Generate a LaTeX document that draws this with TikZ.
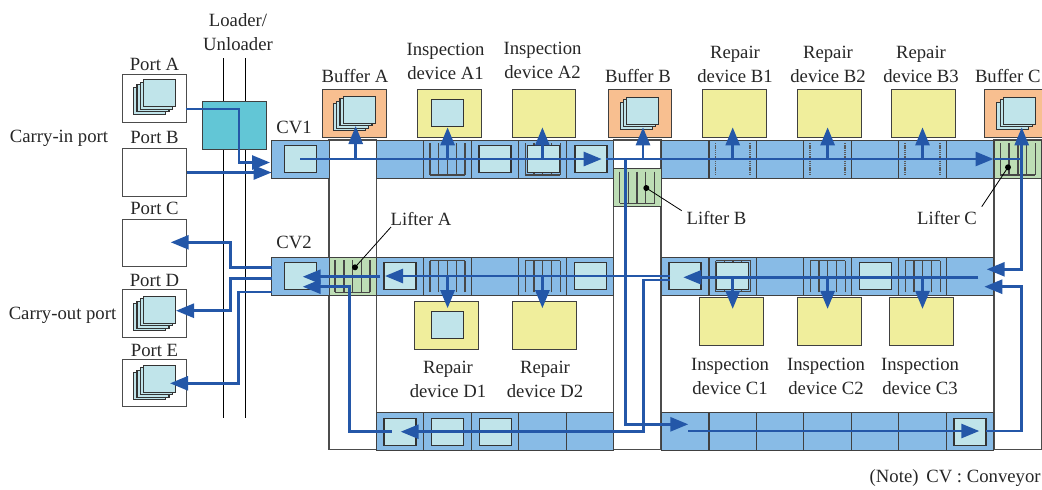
\documentclass[tikz,border=0pt]{standalone}
\usepackage{fontspec}
\setmainfont{Liberation Serif}
\usetikzlibrary{arrows.meta,positioning,calc}
\definecolor{beltblue}{HTML}{88BBE6}
\definecolor{liftgreen}{HTML}{BDDDB5}
\definecolor{loaderteal}{HTML}{62C6D6}
\definecolor{devyellow}{HTML}{F0EE9C}
\definecolor{bufforange}{HTML}{F8BF90}
\definecolor{palecarrier}{HTML}{C0E4EA}
\definecolor{flowblue}{HTML}{2457A8}
\tikzset{
  box/.style={draw=black!75,inner sep=0pt,outer sep=0pt,line width=0.5pt},
  cell/.style={box,fill=beltblue,minimum width=23.7pt,minimum height=19pt},
  cvcell/.style={cell,minimum width=28.7pt},
  lift/.style={cell,fill=liftgreen},
  device/.style={box,fill=devyellow,minimum width=31.8pt,minimum height=24pt},
  buffer/.style={device,fill=bufforange},
  port/.style={box,draw=black!70,fill=white,minimum width=32pt,minimum height=23.8pt},
  carrier/.style={draw=black!80,fill=palecarrier,line width=0.55pt},
  comb/.style={draw=black!72,line width=0.7pt},
  flow/.style={draw=flowblue,line width=1.35pt,-{Triangle[length=9pt,width=7pt]}},
  flowline/.style={draw=flowblue,line width=1.35pt},
  lbl/.style={inner sep=0pt,align=center,yshift=-0.4pt,text=black!85,font=\fontsize{9.35}{12}\selectfont}
}
\begin{document}
\begin{tikzpicture}[x=0.5pt,y=-0.5pt]
  \useasboundingbox (0,0) rectangle (1042,489);
  \clip (0,0) rectangle (1042,489);
  % lifter shafts and rails
  \foreach \a in {329,613.5,994}{
    \draw[draw=black!70,line width=0.55pt] (\a,140) rectangle ({\a+47.5},449.8);
  }
  \draw[line width=0.5pt] (223.3,58) -- (223.3,418);
  \draw[line width=0.5pt] (245.3,58) -- (245.3,418);
  \node[box,fill=loaderteal,minimum width=32pt,minimum height=24pt] (loader) at (234,125) {};
  % ports
  \foreach \n/\y in {A/98.3,B/172.5,C/242.8,D/313.3,E/382.8}{
    \node[port] (Port\n) at (154.5,\y) {};
  }
  % conveyors
  \node[cvcell] (CV1) at (300.3,159) {};
  \node[cvcell] (CV2) at (300.3,276) {};
  \foreach \n/\x in {1/400.2,2/447.6,3/495,4/542.4,5/589.8,6/685.2,7/732.7,8/780.1,9/827.6,10/875,11/922.5,12/970}{
    \node[cell] (T\n) at (\x,159) {};
    \node[cell] (M\n) at (\x,276) {};
    \node[cell] (L\n) at (\x,431.4) {};
  }
  \node[lift] (liftA) at (352.7,276) {};
  \node[lift] (liftB) at (637.5,187.5) {};
  \node[lift] (liftC) at (1017.7,159) {};
  % devices
  \foreach \n/\x in {A1/449.2,A2/544,B1/734.2,B2/829.2,B3/923.5}{
    \node[device] (Dev\n) at (\x,113.3) {};
  }
  \foreach \n/\x in {D1/446.2,D2/544.2}{
    \node[device] (Dev\n) at (\x,325.2) {};
  }
  \foreach \n/\x in {C1/731.2,C2/829.2,C3/921.2}{
    \node[device] (Dev\n) at (\x,321.9) {};
  }
  \foreach \n/\x in {A/354.2,B/639.8,C/1016.2}{
    \node[buffer] (Buf\n) at (\x,113.3) {};
  }
  % combs on the transfer tables
  \foreach \x/\s/\e in {447.5/143.3/175,542.7/143.3/175,637/171.7/203.3,1017.8/143.3/175,352.6/260/292.3,447.5/292.3/260.7,542.7/292.3/260.7,733/291.7/260.7,827.7/292.3/260.7,922.7/292.3/260.7}{
    \draw[comb] ({\x-17.5},\e) -- ({\x+17.5},\e);
    \foreach \d in {-17.5,-8.75,0,8.75,17.5}{
      \draw[comb] ({\x+\d},\s) -- ({\x+\d},\e);
    }
  }
  \draw[comb] (715.5,291.7) -- (750.5,291.7);
  \foreach \x in {715.3,750,810,845,905,940}{
    \draw[dash pattern=on 0.7pt off 0.4pt,draw=black!65,line width=0.7pt] (\x,143) -- (\x,175);
  }
  % carriers
  \foreach \x/\y in {284.5/145.5,431.7/99.3,479/145.3,527.3/145.3,575/145.3,284.3/262.5,384/262.5,574.7/262.5,669/262.5,716.7/262.5,859.3/262.5,431.7/311.7,384/418.3,431.7/418.3,479.3/418.3,954/418.3}{
    \draw[carrier] (\x,\y) rectangle ++(32,27);
  }
  \foreach \x/\y/\k in {133.7/87.3/3,133.7/303.8/3,133.7/372.8/3,333.3/103.7/3}{
    \foreach \i in {0,...,\k}{
      \draw[carrier] ({\x+3.33*\i},{\y-2.55*\i}) rectangle ++(32,27);
    }
  }
  \foreach \x/\y in {620.3/102.3,996.9/102.3}{
    \foreach \i in {0,1,2}{
      \draw[carrier] ({\x+3.2*\i},{\y-2.5*\i}) rectangle ++(32,27);
    }
  }
  % flow points
  \coordinate (outA) at (186,109);
  \coordinate (bendA) at (239,162.5);
  \coordinate (inA) at (270,162.5);
  \coordinate (tipT5) at (601.7,159);
  \coordinate (startT6) at (605.7,159);
  \coordinate (tipT12) at (993.5,159);
  \coordinate (riserC) at (1021.7,159);
  \coordinate (tipBufC) at (1021.7,127.3);
  \coordinate (tipM12) at (986.7,269.3);
  \coordinate (upBufA) at (355.7,159);
  \coordinate (tipBufA) at (355.7,126);
  \coordinate (upBufB) at (643,159);
  \coordinate (tipBufB) at (643,127.3);
  \coordinate (dropB) at (625.7,159);
  \coordinate (tipL6) at (688.3,424.3);
  \coordinate (startL) at (688.3,431);
  \coordinate (tipL12) at (979.3,431);
  \coordinate (outL12) at (986,431);
  \coordinate (tipM12b) at (984.3,286.7);
  \coordinate (startM) at (978.3,277.3);
  \coordinate (tipM6) at (683.3,277.3);
  \coordinate (startM6) at (670,276);
  \coordinate (tipM1) at (385,276);
  \coordinate (startLA) at (380,276.7);
  \coordinate (tipCV2a) at (302.7,276.7);
  \coordinate (outM6) at (670,280);
  \coordinate (tipL1) at (400.7,431.7);
  \coordinate (startL1) at (391.7,431.7);
  \coordinate (tipCV2b) at (302.7,286.7);
  \coordinate (outC) at (272,267.3);
  \coordinate (tipC) at (170.7,242.3);
  \coordinate (outD) at (272,278.7);
  \coordinate (tipD) at (176,310.7);
  \coordinate (outE) at (272,292);
  \coordinate (tipE) at (170,383.3);
  % carry-in
  \draw[flow] (outA) -| (bendA) -- (inA);
  \draw[flow] (PortB.east) -- (CV1.west |- PortB.east);
  % top line
  \draw[flow] (CV1.center) -- (tipT5);
  \draw[flow] (startT6) -- (tipT12);
  \draw[flowline] (tipT12) -- (riserC);
  \draw[flow] (riserC) -- (tipBufC);
  \draw[flow] (riserC) |- (tipM12);
  \draw[flow] (upBufA) -- (tipBufA);
  \draw[flow] (upBufB) -- (tipBufB);
  \foreach \n/\d in {2/A1,4/A2,7/B1,9/B2,11/B3}{
    \draw[flow,shorten >=-5pt] (T\n.center) -- (T\n.center |- Dev\d.south);
  }
  % lifter B down to the lower line and back up
  \draw[flow] (dropB) |- (tipL6);
  \draw[flow] (startL) -- (tipL12);
  \draw[flow] (outL12) -| (riserC |- tipM12b) -- (tipM12b);
  % middle line
  \draw[flow] (startM) -- (tipM6);
  \draw[flow] (startM6) -- (tipM1);
  \draw[flow] (startLA) -- (tipCV2a);
  \draw[flow] (outM6) -| (tipL1 -| 643.3,0) |- (tipL1);
  \draw[flow] (startL1) -| (349.3,286.7) -- (tipCV2b);
  \draw[flow,shorten >=-3.5pt] (M2.center) -- (M2.center |- DevD1.north);
  \draw[flow,shorten >=-3.5pt] (M4.center) -- (M4.center |- DevD2.north);
  \foreach \n/\d in {7/C1,9/C2,11/C3}{
    \draw[flow,shorten >=-5.5pt] (M\n.center) -- (M\n.center |- Dev\d.north);
  }
  % carry-out
  \draw[flow] (outC) -| (230.7,242.3) -- (tipC);
  \draw[flow] (outD) -| (230.7,310.7) -- (tipD);
  \draw[flow] (outE) -| (238.7,383.3) -- (tipE);
  % lifter pointers
  \node[circle,fill=black,inner sep=0pt,minimum size=3pt] (dotA) at (355,267.3) {};
  \node[circle,fill=black,inner sep=0pt,minimum size=3pt] (dotB) at (646.3,188) {};
  \node[circle,fill=black,inner sep=0pt,minimum size=3pt] (dotC) at (1008,167.3) {};
  \node[lbl] (lblLiftA) at (421,218) {Lifter A};
  \node[lbl] (lblLiftB) at (716.5,217) {Lifter B};
  \node[lbl] (lblLiftC) at (947,217) {Lifter C};
  \coordinate (endA) at (391,227);
  \coordinate (endB) at (681.7,210.7);
  \coordinate (endC) at (981.7,206.7);
  \draw[line width=0.4pt] (dotA.center) -- (endA);
  \draw[line width=0.4pt] (dotB.center) -- (endB);
  \draw[line width=0.4pt] (dotC.center) -- (endC);
  % labels
  \node[lbl] (lblLoader) at (238,31) {Loader/\\Unloader};
  \foreach \n/\y in {A/64,B/137,C/208,D/280,E/350}{
    \node[lbl] (lblPort\n) at (154.5,\y) {Port \n};
  }
  \node[lbl] (lblIn) at (59,138) {Carry-in port};
  \node[lbl] (lblOut) at (62.5,315) {Carry-out port};
  \node[lbl] (lblCV1) at (294,127) {CV1};
  \node[lbl] (lblCV2) at (294,242) {CV2};
  \node[lbl] (lblBufA) at (355,75) {Buffer A};
  \node[lbl] (lblBufB) at (638,75) {Buffer B};
  \node[lbl,anchor=east] (lblBufC) at (1041,75) {Buffer C};
  \node[lbl] (lblA1) at (445.5,61) {Inspection\\device A1};
  \node[lbl] (lblA2) at (542.5,60) {Inspection\\device A2};
  \node[lbl] (lblB1) at (735,64) {Repair\\device B1};
  \node[lbl] (lblB2) at (828,64) {Repair\\device B2};
  \node[lbl] (lblB3) at (921,64) {Repair\\device B3};
  \node[lbl] (lblD1) at (448,379) {Repair\\device D1};
  \node[lbl] (lblD2) at (545,379) {Repair\\device D2};
  \node[lbl] (lblC1) at (730,376) {Inspection\\device C1};
  \node[lbl] (lblC2) at (826,376) {Inspection\\device C2};
  \node[lbl] (lblC3) at (920,376) {Inspection\\device C3};
  \node[lbl,anchor=east] (lblNote) at (1041,477) {(Note)\, CV : Conveyor};
\end{tikzpicture}
\end{document}
